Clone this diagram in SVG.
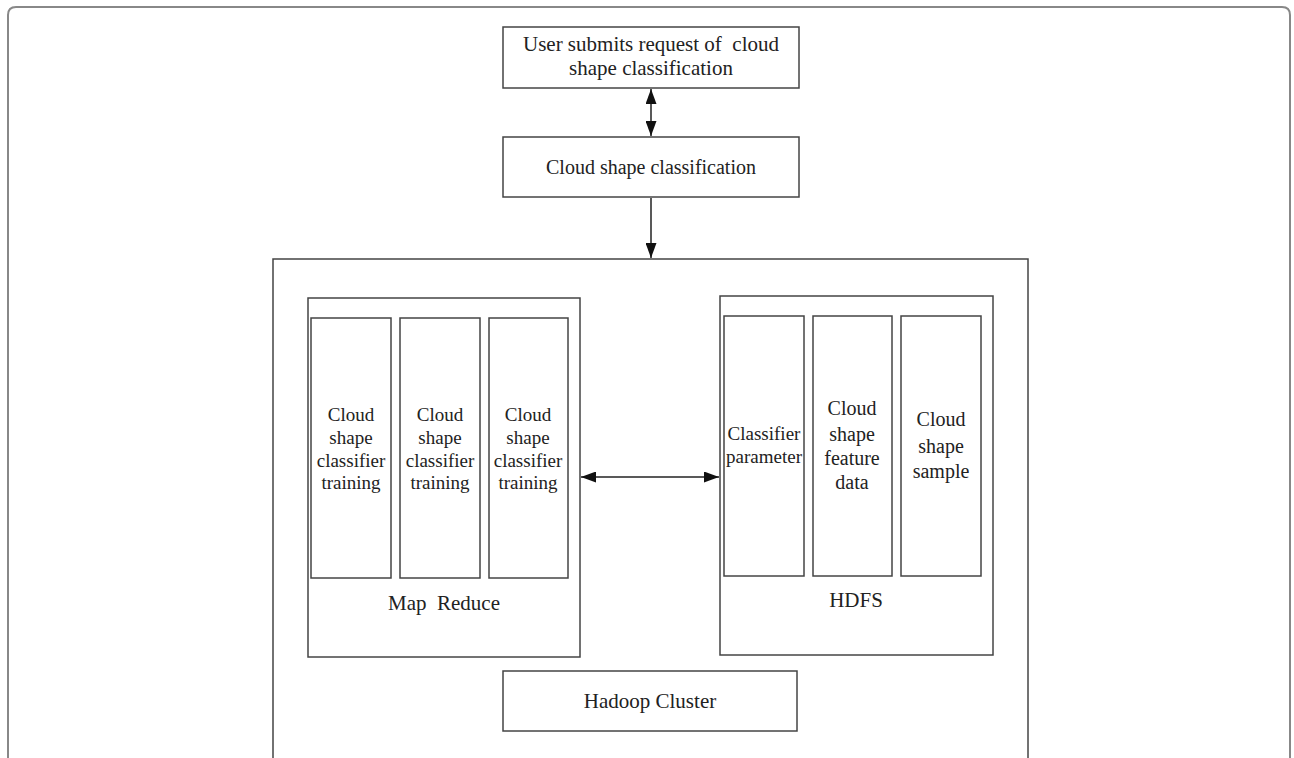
<svg xmlns="http://www.w3.org/2000/svg" width="1294" height="758" viewBox="0 0 1294 758">
<style>
.b{fill:#fff;stroke:#444;stroke-width:1.5}
.t{font-family:"Liberation Serif","Times New Roman",serif;font-size:19px;fill:#222;text-anchor:middle;white-space:pre}
.l{font-size:21px}
.m{font-size:20px}
.c{stroke:#222;stroke-width:1.5;fill:none}
</style>
<defs>
<marker id="ah" viewBox="0 0 15 11" refX="15" refY="5.5" markerWidth="15" markerHeight="11" markerUnits="userSpaceOnUse" orient="auto-start-reverse">
<path d="M0,0 L15,5.5 L0,11 Z" fill="#111"/>
</marker>
</defs>
<rect width="1294" height="758" fill="#fff"/>
<path d="M8,770 L8,15 Q8,7 16,7 L1282,7 Q1290,7 1290,15 L1290,770" fill="none" stroke="#888" stroke-width="2"/>
<g id="user-request">
<rect class="b" x="503" y="27" width="296" height="61"/>
<text class="t l" x="651" y="51" xml:space="preserve">User submits request of  cloud</text>
<text class="t l" x="651" y="75">shape classification</text>
</g>
<g id="cloud-classification">
<rect class="b" x="503" y="137" width="296" height="60"/>
<text class="t m" x="651" y="174">Cloud shape classification</text>
</g>
<g id="hadoop-frame">
<rect class="b" x="273" y="259" width="755" height="520"/>
</g>
<g id="map-reduce">
<rect class="b" x="308" y="298" width="272" height="359"/>
<text class="t l" x="444" y="610" xml:space="preserve">Map  Reduce</text>
</g>
<g id="mr-col1">
<rect class="b" x="311" y="318" width="80" height="260"/>
<text class="t" x="351" y="421">Cloud</text>
<text class="t" x="351" y="444">shape</text>
<text class="t" x="351" y="467">classifier</text>
<text class="t" x="351" y="489">training</text>
</g>
<g id="mr-col2">
<rect class="b" x="400" y="318" width="80" height="260"/>
<text class="t" x="440" y="421">Cloud</text>
<text class="t" x="440" y="444">shape</text>
<text class="t" x="440" y="467">classifier</text>
<text class="t" x="440" y="489">training</text>
</g>
<g id="mr-col3">
<rect class="b" x="489" y="318" width="79" height="260"/>
<text class="t" x="528" y="421">Cloud</text>
<text class="t" x="528" y="444">shape</text>
<text class="t" x="528" y="467">classifier</text>
<text class="t" x="528" y="489">training</text>
</g>
<g id="hdfs">
<rect class="b" x="720" y="296" width="273" height="359"/>
<text class="t l" x="856" y="607">HDFS</text>
</g>
<g id="hdfs-col1">
<rect class="b" x="724" y="316" width="80" height="260"/>
<text class="t" x="764" y="440">Classifier</text>
<text class="t" x="764" y="463">parameter</text>
</g>
<g id="hdfs-col2">
<rect class="b" x="813" y="316" width="79" height="260"/>
<text class="t m" x="852" y="415">Cloud</text>
<text class="t m" x="852" y="441">shape</text>
<text class="t m" x="852" y="465">feature</text>
<text class="t m" x="852" y="489">data</text>
</g>
<g id="hdfs-col3">
<rect class="b" x="901" y="316" width="80" height="260"/>
<text class="t m" x="941" y="426">Cloud</text>
<text class="t m" x="941" y="453">shape</text>
<text class="t m" x="941" y="478">sample</text>
</g>
<g id="hadoop-cluster">
<rect class="b" x="503" y="671" width="294" height="60"/>
<text class="t l" x="650" y="708">Hadoop Cluster</text>
</g>
<g id="connectors">
<line class="c" x1="651" y1="89" x2="651" y2="136" marker-start="url(#ah)" marker-end="url(#ah)"/>
<line class="c" x1="651" y1="198" x2="651" y2="258" marker-end="url(#ah)"/>
<line class="c" x1="581" y1="477" x2="719" y2="477" marker-start="url(#ah)" marker-end="url(#ah)"/>
</g>
</svg>
